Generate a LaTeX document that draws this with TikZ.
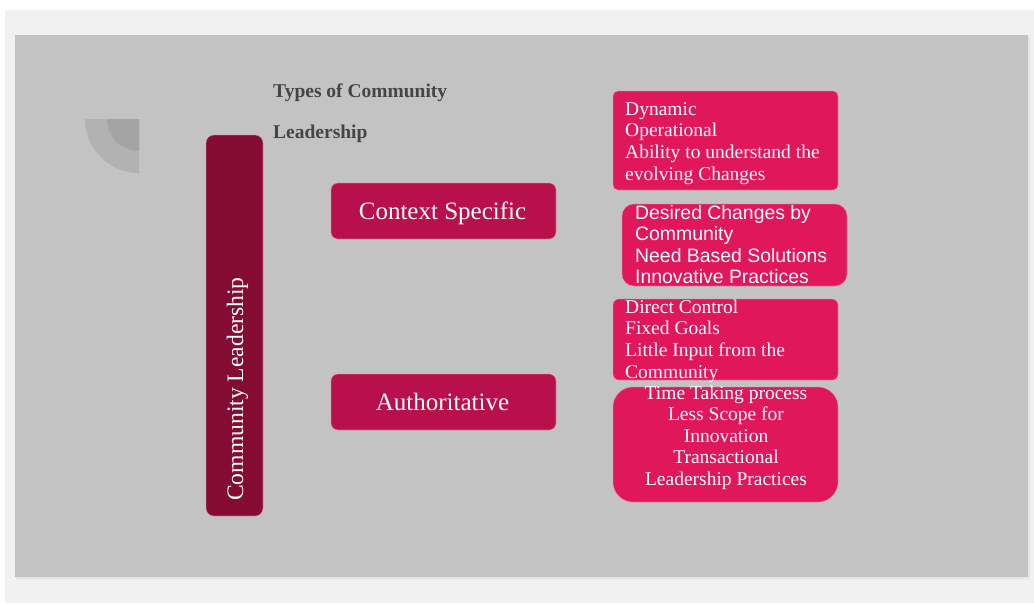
\documentclass[tikz,border=0pt]{standalone}
\usepackage{fontspec}
\setmainfont{Liberation Serif}
\newfontfamily\itemsans{Liberation Sans}

\definecolor{pagebg}{HTML}{F1F1F1}
\definecolor{panel}{HTML}{C3C3C3}
\definecolor{arcout}{HTML}{B2B2B2}
\definecolor{arcin}{HTML}{A4A4A4}
\definecolor{barred}{HTML}{840C33}
\definecolor{midred}{HTML}{B8104A}
\definecolor{itemred}{HTML}{E0175A}
\definecolor{titlegray}{HTML}{454545}
\definecolor{edgepink}{HTML}{E88AA6}

\tikzset{
  card/.style={inner sep=0pt, outer sep=0pt, draw=edgepink, draw opacity=0.6, line width=0.6pt},
  itemtext/.style={inner sep=0pt, text=white, font=\fontsize{19.5}{22}\selectfont},
  sanstext/.style={inner sep=0pt, text=white, font=\itemsans\fontsize{19.4}{22}\selectfont},
  headtext/.style={inner sep=0pt, text=titlegray, font=\bfseries\fontsize{19.5}{22}\selectfont},
  typetext/.style={inner sep=0pt, text=white, font=\fontsize{25}{28}\selectfont}
}

\begin{document}
\begin{tikzpicture}[x=1pt,y=-1pt]
\useasboundingbox (0,0) rectangle (1034,603);
% page and slide panel
\fill[white] (0,0) rectangle (1034,603);
\fill[pagebg] (5,10) rectangle (1034,603);
\fill[black!10] (16,37) rectangle (1030,579);
\fill[panel] (15,35) rectangle (1028,577);

% quarter-disc ornament
\fill[arcout] (139,119) -- (85,119) arc[start angle=180, end angle=90, radius=54] -- cycle;
\fill[arcin] (139,119) -- (107,119) arc[start angle=180, end angle=90, radius=32] -- cycle;

% heading
\node[headtext, anchor=base west] (head1) at (273,97) {Types of Community};
\node[headtext, anchor=base west] (head2) at (273,138) {Leadership};

% vertical bar
\node[card, fill=barred, rounded corners=8pt, minimum width=57pt, minimum height=381pt] (bar) at (234.5,325.5) {};
\node[inner sep=0pt, text=white, font=\fontsize{23.6}{26}\selectfont, rotate=90, anchor=base] (barlabel) at (243,389) {Community Leadership};

% leadership types
\node[card, fill=midred, rounded corners=7pt, minimum width=225pt, minimum height=56pt] (ctx) at (443.5,211) {};
\node[typetext, anchor=base] (ctxlabel) at (442.5,219) {Context Specific};
\node[card, fill=midred, rounded corners=7pt, minimum width=225pt, minimum height=56pt] (auth) at (443.5,402) {};
\node[typetext, anchor=base] (authlabel) at (442.5,410) {Authoritative};

% feature cards
\node[card, fill=itemred, rounded corners=5pt, minimum width=225pt, minimum height=99pt] (c1) at (725.5,140.5) {};
\node[card, fill=itemred, rounded corners=12pt, minimum width=225pt, minimum height=82pt] (c2) at (734.5,245) {};
\node[card, fill=itemred, rounded corners=6pt, minimum width=225pt, minimum height=81pt] (c3) at (725.5,339.5) {};
\node[card, fill=itemred, rounded corners=20pt, minimum width=225pt, minimum height=115pt] (c4) at (725.5,444.5) {};

\foreach \t [count=\i] in {Dynamic, Operational, Ability to understand the, evolving Changes}
  \node[itemtext, anchor=base west] (c1-\i) at (625,{115+21.8*(\i-1)}) {\t};
\foreach \t [count=\i] in {Desired Changes by, Community, Need Based Solutions, Innovative Practices}
  \node[sanstext, anchor=base west] (c2-\i) at (635,{219+21.5*(\i-1)}) {\t};
\foreach \t [count=\i] in {Direct Control, Fixed Goals, Little Input from the, Community}
  \node[itemtext, anchor=base west] (c3-\i) at (625,{313+21.7*(\i-1)}) {\t};
\foreach \t [count=\i] in {Time Taking process, Less Scope for, Innovation, Transactional, Leadership Practices}
  \node[itemtext, anchor=base] (c4-\i) at (726,{399+21.5*(\i-1)}) {\t};
\end{tikzpicture}
\end{document}
